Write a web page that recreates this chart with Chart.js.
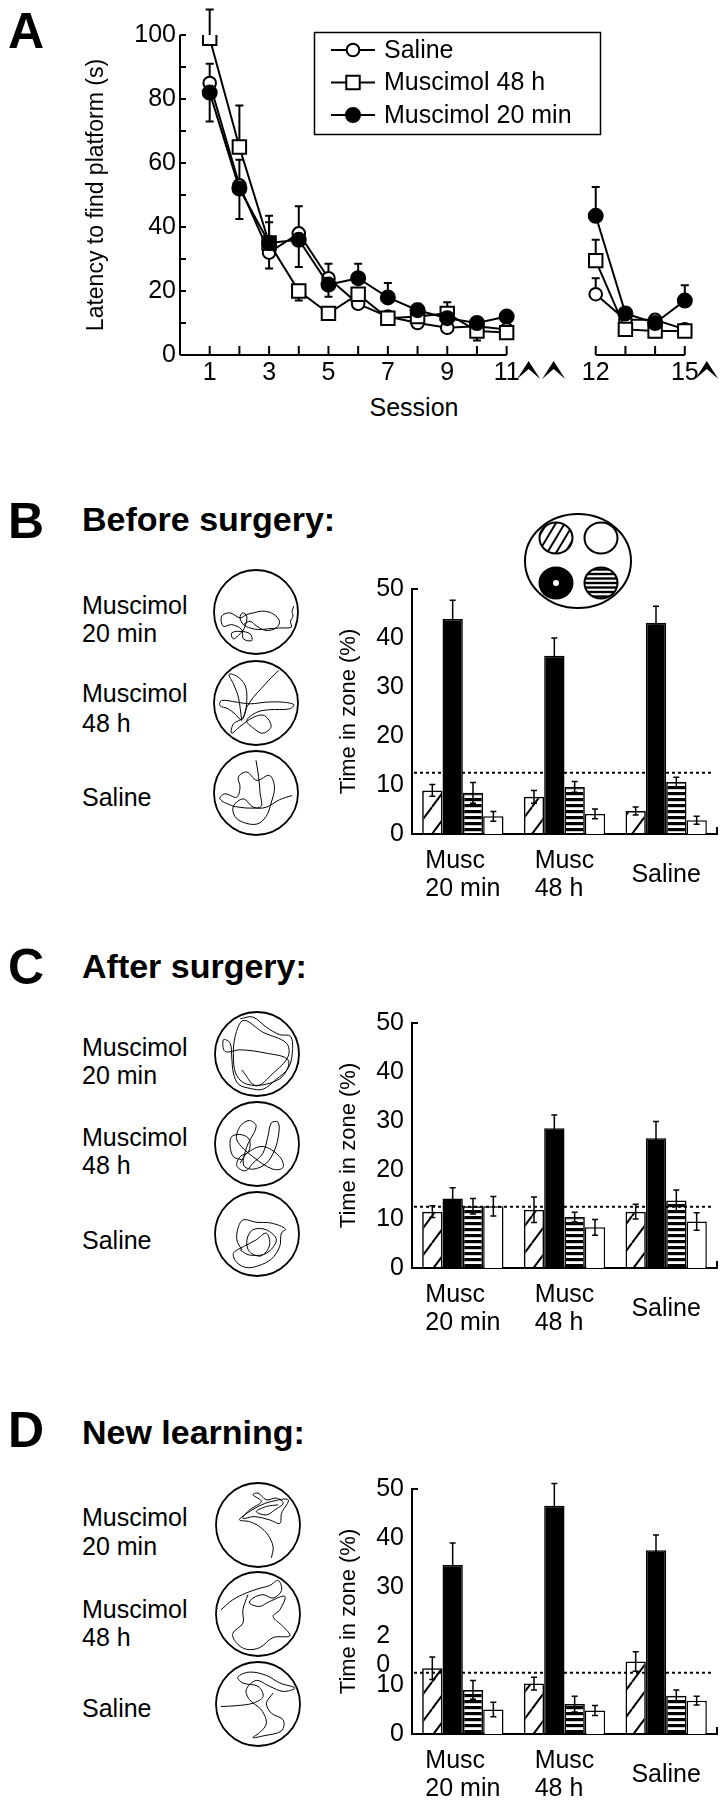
<!DOCTYPE html>
<html>
<head>
<meta charset="utf-8">
<script src="https://cdn.jsdelivr.net/npm/chart.js@4/dist/chart.umd.min.js"></script>
<style>
  body { margin: 0; width: 726px; height: 1800px; background: #fff; position: relative; overflow: hidden;
         font-family: "Liberation Sans", Arial, sans-serif; color: #000; }
  .t { position: absolute; white-space: nowrap; }
  canvas { position: absolute; }
</style>
</head>
<body>
<script>
// ---- Panel A: latency per session ----
const sessions = [1, 2, 3, 4, 5, 6, 7, 8, 9, 10, 11, 12, 13, 14, 15];
const sessionLabels = [1, 3, 5, 7, 9, 11, 12, 15];
const salineLatency = [85, 53, 32, 38, 24, 16, 12, 10, 8.5, 9, 8, 19, 11, 11, 8];
const musc48Latency = [99, 65, 35, 20, 13, 19, 11.5, 12, 13, 7.5, 7, 29.5, 8, 7.5, 7.5];
const musc20Latency = [82, 52, 35, 36, 22, 24, 18, 14, 11.5, 10, 12, 43.5, 13, 10, 17];
// signed SEM: + drawn upward, - drawn downward, 0 not shown
const salineErr = [6, 8, -5, 8.5, 4.5, 0, 0, 0, 0, -2.5, 0, 5, 0, 0, 0];
const musc48Err = [9, 13, 6.5, -3, 0, 0, -2, 0, 3.5, -3, 0, 6.5, 0, 0, 0];
const musc20Err = [-9, -9.5, 8.5, -8.5, -3.8, 4.5, 4.5, 2, 0, 0, 0, 9, 0, 0, 4.8];
const breakAfter = 11;   // surgery break between sessions 11 and 12
const breakGap = 2;

// ---- Panels B-D: time in zone ----
const groups = [['Musc', '20 min'], ['Musc', '48 h'], 'Saline'];
const zoneNames = ['Adjacent (hatched)', 'Target', 'Adjacent (striped)', 'Opposite'];
const chanceLevel = 12.5;

const beforeHatched = [8.9, 7.6, 4.7];
const beforeTarget = [43.9, 36.4, 43.1];
const beforeStriped = [8.4, 9.6, 10.6];
const beforeOpen = [3.6, 4.1, 2.8];
const beforeHatchedErr = [1.2, 1.3, 0.8];
const beforeTargetErr = [3.8, 3.6, 3.4];
const beforeStripedErr = [2.1, 1.1, 1.0];
const beforeOpenErr = [1.0, 1.0, 0.8];

const afterHatched = [11.5, 11.9, 11.5];
const afterTarget = [14.2, 28.5, 26.5];
const afterStriped = [12.6, 10.4, 13.8];
const afterOpen = [12.6, 8.3, 9.5];
const afterHatchedErr = [1.2, 2.6, 1.5];
const afterTargetErr = [2.2, 2.7, 3.4];
const afterStripedErr = [1.6, 1.0, 2.1];
const afterOpenErr = [2.0, 1.6, 1.8];

const newHatched = [13.4, 10.3, 14.8];
const newTarget = [34.5, 46.6, 37.5];
const newStriped = [9.0, 6.1, 7.8];
const newOpen = [5.0, 4.8, 6.8];
const newHatchedErr = [2.3, 1.3, 2.0];
const newTargetErr = [4.5, 4.5, 3.1];
const newStripedErr = [1.9, 1.6, 1.2];
const newOpenErr = [1.5, 1.0, 0.9];

const zoneTicks = [0, 10, 20, 30, 40, 50];
const zoneTickLabels = ['0', '10', '20', '30', '40', '50'];
const newTicks = [0, 10, 14, 20, 30, 40, 50];
const newTickLabels = ['0', '10', '0\u2007', '2\u2007', '30', '40', '50'];

// ---- swim paths, in a 0-100 box around the pool ----
const pathBefore20 = [[95,43],[93,49],[94,55],[91,61],[92,68],[78,69],[64,70],[53,71],[43,69],[35,65],[31,57],[34,51],[39,55],[37,67],[31,76],[23,82],[21,75],[31,73],[43,76],[45,84],[35,82],[33,71],[21,65],[11,67],[9,55],[19,51],[31,57],[39,53],[47,51],[58,49],[70,52],[78,61],[74,69],[62,72],[51,67],[43,61],[35,65]];
const pathBefore48 = [[77,11],[68,20],[56,33],[47,43],[39,55],[33,70],[25,63],[17,57],[7,53],[9,47],[27,49],[43,51],[62,49],[82,49],[95,52],[90,57],[66,58],[51,61],[39,71],[47,80],[58,86],[68,78],[60,65],[47,67],[31,78],[21,86],[23,75],[35,67],[39,47],[37,29],[27,18],[18,16],[23,27],[29,43],[33,71]];
const pathBeforeSaline = [[50,11],[53,30],[55,51],[56,66],[43,68],[31,67],[21,65],[7,57],[13,51],[27,55],[31,43],[29,31],[39,25],[51,35],[66,29],[72,43],[68,62],[62,78],[51,87],[35,85],[25,78],[23,66],[35,57],[47,67],[62,67],[78,58],[93,53]];
const pathAfter20 = [[30,8],[45,6],[61,18],[77,27],[90,29],[92,49],[87,67],[73,80],[57,92],[42,91],[28,86],[22,73],[20,55],[18,37],[10,33],[12,47],[30,45],[61,49],[87,57],[81,76],[61,86],[38,86],[26,76],[22,57],[24,29],[34,10],[57,24],[85,37],[87,53],[69,73],[49,88],[32,69]];
const pathAfter48 = [[32,69],[22,65],[18,53],[20,41],[32,39],[41,45],[40,59],[30,65],[26,76],[36,82],[45,73],[57,61],[63,41],[67,25],[75,24],[76,37],[71,57],[61,73],[45,80],[34,75],[38,53],[49,29],[41,22],[30,29],[26,45],[45,65],[69,80],[81,78],[77,65],[57,53],[38,61],[30,73]];
const pathAfterSaline = [[32,69],[26,57],[28,41],[34,33],[49,36],[67,37],[84,44],[79,49],[77,65],[67,80],[51,88],[38,90],[26,84],[22,73],[34,65],[49,57],[61,49],[65,63],[55,76],[41,71],[38,57],[45,45],[61,45],[73,57],[61,73],[41,75],[30,69]];
const pathNew20 = [[66,89],[68,76],[62,62],[52,52],[40,46],[28,44],[34,38],[50,28],[66,22],[86,20],[78,36],[76,48],[64,44],[46,40],[32,42],[40,32],[54,22],[44,14],[50,12],[60,20],[72,18],[80,24],[70,32],[60,38],[48,34],[60,28],[74,26]];
const pathNew48 = [[6,45],[20,33],[36,25],[50,20],[64,16],[74,10],[78,22],[68,31],[56,27],[44,31],[40,37],[52,41],[64,35],[82,29],[76,45],[68,53],[80,65],[88,76],[68,78],[52,90],[36,92],[24,84],[20,73],[32,61],[32,45],[38,27]];
const pathNewSaline = [[6,53],[24,52],[44,49],[56,41],[50,29],[32,25],[26,18],[40,12],[60,16],[76,25],[94,31],[80,35],[64,29],[48,22],[36,33],[40,45],[54,57],[60,73],[52,84],[44,90],[56,88],[78,82],[80,69],[66,61],[60,49],[68,37]];

Chart.defaults.font.family = '"Liberation Sans", Arial, sans-serif';
Chart.defaults.color = '#000';

const pos = s => (s > breakAfter ? s + breakGap : s);

function addCanvas(left, top, w, h) {
  const c = document.createElement('canvas');
  c.width = w; c.height = h;
  c.style.left = left + 'px'; c.style.top = top + 'px';
  document.body.appendChild(c);
  return c;
}

function addText(txt, x, cy, size, bold, center) {
  const d = document.createElement('div');
  d.className = 't';
  d.textContent = txt;
  d.style.left = x + 'px';
  d.style.top = (cy - size * 0.6) + 'px';
  d.style.fontSize = size + 'px';
  d.style.lineHeight = (size * 1.2) + 'px';
  d.style.fontWeight = bold ? 'bold' : 'normal';
  if (center) d.style.transform = 'translateX(-50%)';
  document.body.appendChild(d);
}

// ---- headings and row labels ----
addText('A', 8, 31, 50, true);
addText('B', 8, 521, 50, true);
addText('Before surgery:', 82, 519, 34, true);
addText('C', 8, 967, 50, true);
addText('After surgery:', 82, 966, 34, true);
addText('D', 8, 1430, 50, true);
addText('New learning:', 82, 1432, 34, true);
addText('Session', 414, 407, 25, false, true);

[[605, 633, 693, 723, 797], [1047, 1075, 1137, 1165, 1240], [1517, 1546, 1609, 1637, 1708]].forEach(r => {
  addText('Muscimol', 82, r[0], 25); addText('20 min', 82, r[1], 25);
  addText('Muscimol', 82, r[2], 25); addText('48 h', 82, r[3], 25);
  addText('Saline', 82, r[4], 25);
});

// ---- Panel A ----
function lineSet(label, values, errors, pointStyle, radius, fill) {
  return {
    label, errors,
    data: sessions.map((s, i) => ({ x: pos(s), y: values[i] })),
    borderColor: '#000', borderWidth: 2, tension: 0,
    pointStyle, pointRadius: radius, pointBackgroundColor: fill,
    pointBorderColor: '#000', pointBorderWidth: 2,
    segment: { borderColor: c => (sessions[c.p0DataIndex] === breakAfter ? 'rgba(0,0,0,0)' : '#000') }
  };
}

function dart(ctx, cx, cy) {
  ctx.beginPath();
  ctx.moveTo(cx - 11.5, cy + 9); ctx.lineTo(cx, cy - 9); ctx.lineTo(cx + 11.5, cy + 9); ctx.lineTo(cx, cy - 1);
  ctx.closePath(); ctx.fill();
}

const latencyDecor = {
  id: 'latencyDecor',
  beforeDatasetsDraw(chart) {
    const { ctx, scales: { x, y } } = chart;
    const x0 = x.getPixelForValue(0), y0 = y.getPixelForValue(0);
    ctx.save();
    ctx.strokeStyle = '#000'; ctx.lineWidth = 2;
    ctx.beginPath();
    ctx.moveTo(x0, y0); ctx.lineTo(x0, y.getPixelForValue(100));
    for (let v = 10; v <= 100; v += 10) { const py = y.getPixelForValue(v); ctx.moveTo(x0, py); ctx.lineTo(x0 + 6, py); }
    ctx.moveTo(x0, y0); ctx.lineTo(x.getPixelForValue(breakAfter), y0);
    ctx.moveTo(x.getPixelForValue(pos(12)), y0); ctx.lineTo(x.getPixelForValue(pos(15)), y0);
    sessions.forEach(s => { const px = x.getPixelForValue(pos(s)); ctx.moveTo(px, y0); ctx.lineTo(px, y0 - 9); });
    ctx.stroke();
    // error bars under the markers
    ctx.lineWidth = 2;
    chart.data.datasets.forEach(ds => ds.data.forEach((p, i) => {
      const e = ds.errors[i];
      if (!e) return;
      const px = x.getPixelForValue(p.x), py = y.getPixelForValue(p.y), pe = y.getPixelForValue(p.y + e);
      ctx.beginPath();
      ctx.moveTo(px, py); ctx.lineTo(px, pe);
      ctx.moveTo(px - 4, pe); ctx.lineTo(px + 4, pe);
      ctx.stroke();
    }));
    ctx.restore();
  },
  afterDraw(chart) {
    const { ctx, scales: { x, y } } = chart;
    ctx.save();
    // legend
    ctx.strokeStyle = '#000'; ctx.lineWidth = 1.5;
    ctx.strokeRect(314.5, 32.5, 286, 102);
    const rows = [chart.data.datasets[2], chart.data.datasets[1], chart.data.datasets[0]];
    ctx.font = '25px "Liberation Sans", Arial, sans-serif';
    ctx.textBaseline = 'middle';
    rows.forEach((ds, k) => {
      const ry = 50 + k * 32.5;
      ctx.lineWidth = 2;
      ctx.beginPath(); ctx.moveTo(331, ry); ctx.lineTo(375, ry); ctx.stroke();
      ctx.beginPath();
      if (ds.pointStyle === 'rect') {
        const h = ds.pointRadius * Math.SQRT1_2;
        ctx.rect(353 - h, ry - h, 2 * h, 2 * h);
      } else {
        ctx.arc(353, ry, ds.pointRadius, 0, 2 * Math.PI);
      }
      ctx.fillStyle = ds.pointBackgroundColor; ctx.fill(); ctx.stroke();
      ctx.fillStyle = '#000';
      ctx.fillText(ds.label, 384, ry + 1);
    });
    // surgery arrows
    const ay = y.getPixelForValue(0) + 15;
    const p11 = x.getPixelForValue(breakAfter), p15 = x.getPixelForValue(pos(15));
    ctx.fillStyle = '#000';
    dart(ctx, p11 + 22, ay); dart(ctx, p11 + 47, ay); dart(ctx, p15 + 22, ay);
    ctx.restore();
  }
};

new Chart(addCanvas(0, 0, 726, 430), {
  type: 'line',
  data: {
    datasets: [
      lineSet('Muscimol 20 min', musc20Latency, musc20Err, 'circle', 7, '#000'),
      lineSet('Muscimol 48 h', musc48Latency, musc48Err, 'rect', 9.5, '#fff'),
      lineSet('Saline', salineLatency, salineErr, 'circle', 6.3, '#fff')
    ]
  },
  options: {
    responsive: false, animation: false, events: [],
    layout: { padding: { top: 35, right: 10, bottom: 0, left: 0 } },
    plugins: { legend: { display: false }, tooltip: { enabled: false } },
    scales: {
      x: {
        type: 'linear', min: 0, max: 18,
        afterBuildTicks: s => { s.ticks = sessions.map(v => ({ value: pos(v) })); },
        ticks: {
          autoSkip: false, maxRotation: 0, font: { size: 25 }, color: '#000', padding: 3,
          callback: v => { const s = v > breakAfter + breakGap ? v - breakGap : v; return sessionLabels.includes(s) ? String(s) : ''; }
        },
        grid: { display: false, drawTicks: false }, border: { display: false },
        afterFit: s => { s.height = 75; }
      },
      y: {
        min: 0, max: 100,
        ticks: { stepSize: 10, font: { size: 25 }, color: '#000', padding: 4, callback: v => (v % 20 === 0 ? v : '') },
        grid: { display: false, drawTicks: false }, border: { display: false },
        title: { display: true, text: 'Latency to find platform (s)', font: { size: 23 }, color: '#000', padding: { top: 83, bottom: 0 } },
        afterFit: s => { s.width = 180; }
      }
    }
  },
  plugins: [latencyDecor]
});

// ---- Panels B-D ----
function makeTile(w, h, draw) {
  const c = document.createElement('canvas');
  c.width = w; c.height = h;
  draw(c.getContext('2d'), w, h);
  return c;
}
const hatchTile = makeTile(20, 27, (g, w, h) => {
  g.strokeStyle = '#000'; g.lineWidth = 2;
  g.beginPath();
  for (let k = -1; k <= 1; k++) { g.moveTo(k * w, h); g.lineTo(k * w + w, 0); }
  g.stroke();
});
const stripeTile = makeTile(6, 6, (g) => { g.fillStyle = '#000'; g.fillRect(0, 0, 6, 3.2); });
const pattern = (c, tile) => c.chart.ctx.createPattern(tile, 'repeat');

function drawZoneMap(ctx, cx, cy) {
  ctx.strokeStyle = '#000'; ctx.lineWidth = 2;
  ctx.beginPath(); ctx.ellipse(cx, cy, 53, 47, 0, 0, 2 * Math.PI);
  ctx.fillStyle = '#fff'; ctx.fill(); ctx.stroke();
  [[-22, -23, 'hatch'], [23, -23, 'open'], [-22, 22, 'target'], [23, 22, 'stripe']].forEach(([dx, dy, kind]) => {
    const qx = cx + dx, qy = cy + dy;
    ctx.save();
    ctx.beginPath(); ctx.ellipse(qx, qy, 16.5, 15.5, 0, 0, 2 * Math.PI);
    ctx.fillStyle = kind === 'target' ? '#000' : '#fff'; ctx.fill();
    ctx.clip();
    ctx.fillStyle = '#000';
    if (kind === 'hatch') {
      ctx.lineWidth = 2; ctx.beginPath();
      for (let k = -36; k <= 36; k += 9) { ctx.moveTo(qx + k - 12, qy + 20); ctx.lineTo(qx + k + 12, qy - 20); }
      ctx.stroke();
    }
    if (kind === 'stripe') { for (let k = -18; k <= 18; k += 4.5) ctx.fillRect(qx - 20, qy + k - 1.2, 40, 2.4); }
    ctx.restore();
    ctx.beginPath(); ctx.ellipse(qx, qy, 16.5, 15.5, 0, 0, 2 * Math.PI); ctx.lineWidth = 2; ctx.stroke();
    if (kind === 'target') { ctx.beginPath(); ctx.arc(qx, qy, 3, 0, 2 * Math.PI); ctx.fillStyle = '#fff'; ctx.fill(); }
  });
}

function zoneDecor(withMap) {
  return {
    id: 'zoneDecor',
    afterDatasetsDraw(chart) {
      const { ctx, chartArea: a, scales: { x, y } } = chart;
      ctx.save();
      ctx.strokeStyle = '#000'; ctx.fillStyle = '#000'; ctx.lineWidth = 1.5;
      chart.data.datasets.forEach((ds, di) => {
        chart.getDatasetMeta(di).data.forEach((bar, i) => {
          const v = ds.data[i], e = ds.errors[i];
          const t = y.getPixelForValue(v + e), b = y.getPixelForValue(v - e);
          ctx.beginPath();
          ctx.moveTo(bar.x, t); ctx.lineTo(bar.x, b);
          ctx.moveTo(bar.x - 3, t); ctx.lineTo(bar.x + 3, t);
          ctx.moveTo(bar.x - 3, b); ctx.lineTo(bar.x + 3, b);
          ctx.stroke();
        });
      });
      const cy = y.getPixelForValue(chanceLevel);
      ctx.setLineDash([3, 3]); ctx.lineWidth = 1.8;
      ctx.beginPath(); ctx.moveTo(a.left + 2, cy); ctx.lineTo(a.right - 4, cy); ctx.stroke();
      ctx.setLineDash([]);
      ctx.lineWidth = 2;
      ctx.beginPath();
      ctx.moveTo(a.left, a.top); ctx.lineTo(a.left + 6, a.top);
      ctx.moveTo(a.right, a.bottom); ctx.lineTo(a.right, a.bottom - 7);
      ctx.stroke();
      ctx.font = '25px "Liberation Sans", Arial, sans-serif';
      ctx.textBaseline = 'middle';
      chart.data.labels.forEach((lab, i) => {
        const px = x.getPixelForValue(i);
        if (Array.isArray(lab)) {
          const w = Math.max(...lab.map(s => ctx.measureText(s).width));
          ctx.textAlign = 'left';
          lab.forEach((s, k) => ctx.fillText(s, px - w / 2, a.bottom + 27 + k * 28));
        } else {
          ctx.textAlign = 'center';
          ctx.fillText(lab, px, a.bottom + 41);
        }
      });
      if (withMap) drawZoneMap(ctx, a.left + 166, a.top - 28);
      ctx.restore();
    }
  };
}

function zoneChart(top, height, padTop, series, errors, tickValues, tickLabels, withMap) {
  const fills = [c => pattern(c, hatchTile), '#000', c => pattern(c, stripeTile), '#fff'];
  return new Chart(addCanvas(332, top, 394, height), {
    type: 'bar',
    data: {
      labels: groups,
      datasets: series.map((d, k) => ({
        label: zoneNames[k], data: d, errors: errors[k],
        backgroundColor: fills[k], borderColor: '#000', borderWidth: 1.5,
        barPercentage: 1, categoryPercentage: 0.8
      }))
    },
    options: {
      responsive: false, animation: false, events: [],
      layout: { padding: { top: padTop, right: 9, bottom: height - padTop - 245, left: 0 } },
      plugins: { legend: { display: false }, tooltip: { enabled: false } },
      scales: {
        x: {
          grid: { display: false, drawTicks: false }, ticks: { display: false },
          border: { display: true, color: '#000', width: 2 },
          afterFit: s => { s.height = 0; }
        },
        y: {
          min: 0, max: 50,
          afterBuildTicks: s => { s.ticks = tickValues.map(v => ({ value: v })); },
          ticks: { autoSkip: false, font: { size: 25 }, color: '#000', padding: 8, callback: (v, i) => tickLabels[i] },
          grid: { display: false, drawTicks: false },
          border: { display: true, color: '#000', width: 2 },
          title: { display: true, text: 'Time in zone (%)', font: { size: 22 }, color: '#000', padding: { top: 4, bottom: 0 } },
          afterFit: s => { s.width = 80; }
        }
      }
    },
    plugins: [zoneDecor(withMap)]
  });
}

zoneChart(510, 399, 79,
  [beforeHatched, beforeTarget, beforeStriped, beforeOpen],
  [beforeHatchedErr, beforeTargetErr, beforeStripedErr, beforeOpenErr],
  zoneTicks, zoneTickLabels, true);
zoneChart(1000, 343, 23,
  [afterHatched, afterTarget, afterStriped, afterOpen],
  [afterHatchedErr, afterTargetErr, afterStripedErr, afterOpenErr],
  zoneTicks, zoneTickLabels, false);
zoneChart(1466, 334, 23,
  [newHatched, newTarget, newStriped, newOpen],
  [newHatchedErr, newTargetErr, newStripedErr, newOpenErr],
  newTicks, newTickLabels, false);

// ---- swim path pools ----
const arenaRim = {
  id: 'arenaRim',
  afterDraw(chart) {
    const { ctx, chartArea: a } = chart;
    ctx.save();
    ctx.strokeStyle = '#000'; ctx.lineWidth = 1.8;
    ctx.beginPath();
    ctx.ellipse((a.left + a.right) / 2, (a.top + a.bottom) / 2, a.width / 2, a.height / 2, 0, 0, 2 * Math.PI);
    ctx.stroke();
    ctx.restore();
  }
};

function pool(points, cx, cy) {
  new Chart(addCanvas(cx - 45, cy - 45, 90, 90), {
    type: 'scatter',
    data: { datasets: [{ data: points.map(([x, y]) => ({ x, y })), showLine: true, borderColor: '#000', borderWidth: 1, pointRadius: 0, tension: 0.35 }] },
    options: {
      responsive: false, animation: false, events: [],
      layout: { padding: 3 },
      plugins: { legend: { display: false }, tooltip: { enabled: false } },
      scales: { x: { display: false, min: 0, max: 100 }, y: { display: false, min: 0, max: 100, reverse: true } }
    },
    plugins: [arenaRim]
  });
}

pool(pathBefore20, 256, 612);
pool(pathBefore48, 256, 703);
pool(pathBeforeSaline, 256, 793);
pool(pathAfter20, 257, 1054);
pool(pathAfter48, 257, 1144);
pool(pathAfterSaline, 257, 1234);
pool(pathNew20, 258, 1525);
pool(pathNew48, 258, 1614);
pool(pathNewSaline, 258, 1704);
</script>
</body>
</html>
